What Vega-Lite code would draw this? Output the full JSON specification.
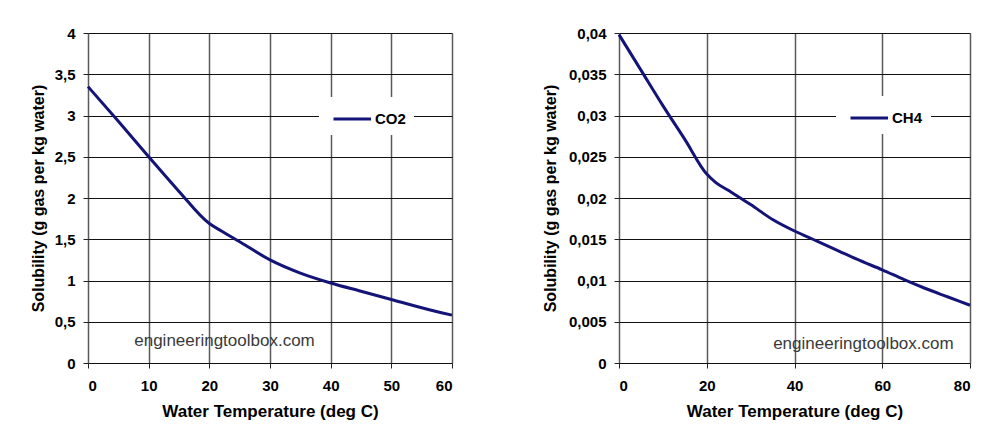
{
  "$schema": "https://vega.github.io/schema/vega-lite/v6.json",
  "padding": {"left": 30, "top": 26, "right": 5, "bottom": 5},
  "spacing": 84,
  "background": "white",
  "datasets": {
    "co2": [
      {"temp": 0, "solubility": 3.35, "gas": "CO2"},
      {"temp": 5, "solubility": 2.93, "gas": "CO2"},
      {"temp": 10, "solubility": 2.5, "gas": "CO2"},
      {"temp": 15, "solubility": 2.08, "gas": "CO2"},
      {"temp": 20, "solubility": 1.69, "gas": "CO2"},
      {"temp": 22, "solubility": 1.6, "gas": "CO2"},
      {"temp": 25, "solubility": 1.47, "gas": "CO2"},
      {"temp": 30, "solubility": 1.25, "gas": "CO2"},
      {"temp": 35, "solubility": 1.09, "gas": "CO2"},
      {"temp": 40, "solubility": 0.97, "gas": "CO2"},
      {"temp": 45, "solubility": 0.87, "gas": "CO2"},
      {"temp": 50, "solubility": 0.77, "gas": "CO2"},
      {"temp": 55, "solubility": 0.67, "gas": "CO2"},
      {"temp": 60, "solubility": 0.58, "gas": "CO2"}
    ],
    "ch4": [
      {"temp": 0, "solubility": 0.0398, "gas": "CH4"},
      {"temp": 5, "solubility": 0.0355, "gas": "CH4"},
      {"temp": 10, "solubility": 0.0312, "gas": "CH4"},
      {"temp": 15, "solubility": 0.0271, "gas": "CH4"},
      {"temp": 20, "solubility": 0.0229, "gas": "CH4"},
      {"temp": 22, "solubility": 0.0219, "gas": "CH4"},
      {"temp": 25, "solubility": 0.0209, "gas": "CH4"},
      {"temp": 30, "solubility": 0.0192, "gas": "CH4"},
      {"temp": 35, "solubility": 0.0174, "gas": "CH4"},
      {"temp": 40, "solubility": 0.016, "gas": "CH4"},
      {"temp": 45, "solubility": 0.0148, "gas": "CH4"},
      {"temp": 50, "solubility": 0.0136, "gas": "CH4"},
      {"temp": 55, "solubility": 0.0124, "gas": "CH4"},
      {"temp": 60, "solubility": 0.0113, "gas": "CH4"},
      {"temp": 65, "solubility": 0.0101, "gas": "CH4"},
      {"temp": 70, "solubility": 0.009, "gas": "CH4"},
      {"temp": 75, "solubility": 0.008, "gas": "CH4"},
      {"temp": 80, "solubility": 0.007, "gas": "CH4"}
    ],
    "wm1": [{"temp": 22.5, "solubility": 0.27, "label": "engineeringtoolbox.com"}],
    "wm2": [{"temp": 55.7, "solubility": 0.0023, "label": "engineeringtoolbox.com"}]
  },
  "config": {
    "view": {"stroke": null},
    "font": "Liberation Sans",
    "axis": {
      "labelFont": "Liberation Sans",
      "labelFontSize": 15,
      "labelFontWeight": "bold",
      "labelColor": "#000000",
      "titleFont": "Liberation Sans",
      "titleFontSize": 16,
      "titleFontWeight": "bold",
      "titleColor": "#000000",
      "domain": false,
      "grid": true,
      "tickColor": "#222222",
      "tickSize": 5
    },
    "axisX": {"gridColor": "#5a5a5a", "gridWidth": 1.5, "labelPadding": 10, "titlePadding": 10, "titleFontSize": 17},
    "axisY": {"gridColor": "#111111", "gridWidth": 1.2, "labelPadding": 8},
    "legend": {
      "orient": "none",
      "title": null,
      "fillColor": "white",
      "strokeColor": null,
      "padding": 8,
      "symbolType": "M-0.6,0H2.4",
      "symbolSize": 625,
      "symbolStrokeWidth": 3,
      "labelOffset": 20,
      "labelFont": "Liberation Sans",
      "labelFontSize": 15,
      "labelFontWeight": "bold",
      "labelColor": "#000000"
    }
  },
  "hconcat": [
    {
      "width": 364,
      "height": 330,
      "layer": [
        {
          "data": {"name": "co2"},
          "mark": {"type": "line", "strokeWidth": 3, "interpolate": "monotone"},
          "encoding": {
            "x": {"field": "temp", "type": "quantitative", "title": "Water Temperature (deg C)",
                  "scale": {"domain": [0, 60], "nice": false},
                  "axis": {"values": [0, 10, 20, 30, 40, 50, 60]}},
            "y": {"field": "solubility", "type": "quantitative", "title": "Solubility (g gas per kg water)",
                  "scale": {"domain": [0, 4], "nice": false},
                  "axis": {"values": [0, 0.5, 1, 1.5, 2, 2.5, 3, 3.5, 4], "format": "~g",
                           "labelExpr": "replace(datum.label, '.', ',')", "titlePadding": 8}},
            "color": {"field": "gas", "type": "nominal", "scale": {"range": ["#141478"]},
                      "legend": {"legendX": 231, "legendY": 64}}
          }
        },
        {
          "data": {"name": "wm1"},
          "mark": {"type": "text", "font": "Liberation Sans", "fontSize": 17, "color": "#3a3a3a", "align": "center", "baseline": "middle"},
          "encoding": {
            "x": {"field": "temp", "type": "quantitative"},
            "y": {"field": "solubility", "type": "quantitative"},
            "text": {"field": "label"}
          }
        }
      ]
    },
    {
      "width": 351,
      "height": 330,
      "layer": [
        {
          "data": {"name": "ch4"},
          "mark": {"type": "line", "strokeWidth": 3, "interpolate": "monotone"},
          "encoding": {
            "x": {"field": "temp", "type": "quantitative", "title": "Water Temperature (deg C)",
                  "scale": {"domain": [0, 80], "nice": false},
                  "axis": {"values": [0, 20, 40, 60, 80]}},
            "y": {"field": "solubility", "type": "quantitative", "title": "Solubility (g gas per kg water)",
                  "scale": {"domain": [0, 0.04], "nice": false},
                  "axis": {"values": [0, 0.005, 0.01, 0.015, 0.02, 0.025, 0.03, 0.035, 0.04], "format": "~g",
                           "labelExpr": "replace(datum.label, '.', ',')", "titlePadding": 10}},
            "color": {"field": "gas", "type": "nominal", "scale": {"range": ["#141478"]},
                      "legend": {"legendX": 217, "legendY": 63}}
          }
        },
        {
          "data": {"name": "wm2"},
          "mark": {"type": "text", "font": "Liberation Sans", "fontSize": 17, "color": "#3a3a3a", "align": "center", "baseline": "middle"},
          "encoding": {
            "x": {"field": "temp", "type": "quantitative"},
            "y": {"field": "solubility", "type": "quantitative"},
            "text": {"field": "label"}
          }
        }
      ]
    }
  ],
  "resolve": {"scale": {"color": "independent", "x": "independent", "y": "independent"}, "legend": {"color": "independent"}}
}
